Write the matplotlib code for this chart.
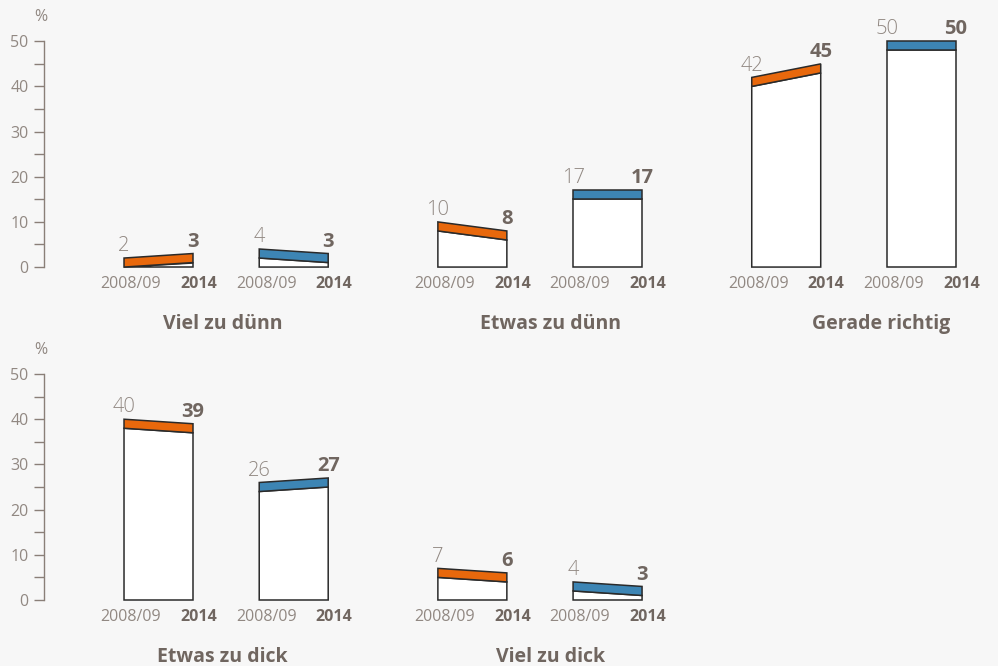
import matplotlib.pyplot as plt
from matplotlib.patches import Polygon
from matplotlib.ticker import MultipleLocator

plt.rcParams['font.family'] = ['Open Sans', 'DejaVu Sans']

# data: each panel has an orange and a blue pair (2008/09 -> 2014)
top_groups = ['Viel zu dünn', 'Etwas zu dünn', 'Gerade richtig']
top_orange = [(2, 3), (10, 8), (42, 45)]
top_blue = [(4, 3), (17, 17), (50, 50)]

bottom_groups = ['Etwas zu dick', 'Viel zu dick']
bottom_orange = [(40, 39), (7, 6)]
bottom_blue = [(26, 27), (4, 3)]

years = ['2008/09', '2014']
yticks = [0, 10, 20, 30, 40, 50]

BG = '#f7f7f7'
ORANGE = '#e8680c'
BLUE = '#3d85b4'
EDGE = '#2a2a2a'
LIGHT = '#918882'
DARK = '#706660'
AXC = '#8a7f78'

BAND = 2.0
GROUP_STEP = 4.55
SERIES_STEP = 1.96
FIRST = 1.16
title_shift = [-0.05, 0.15, 0.4]


def draw_bar(ax, x0, vals, color):
    v1, v2 = vals
    x1 = x0 + 1
    b1, b2 = max(v1 - BAND, 0), max(v2 - BAND, 0)
    ax.add_patch(Polygon([(x0, 0), (x1, 0), (x1, b2), (x0, b1)], closed=True,
                         facecolor='white', edgecolor=EDGE, lw=1.1, clip_on=False))
    ax.add_patch(Polygon([(x0, b1), (x1, b2), (x1, v2), (x0, v1)], closed=True,
                         facecolor=color, edgecolor=EDGE, lw=1.1, clip_on=False))
    ax.text(x0, v1 + 0.4, str(v1), ha='center', va='bottom', fontsize=14.5,
            color=LIGHT, fontweight='light')
    ax.text(x1, v2 + 0.4, str(v2), ha='center', va='bottom', fontsize=14.5,
            color=DARK, fontweight='bold')
    ax.text(x0 + 0.1, -2.0, years[0], ha='center', va='top', fontsize=11.5,
            color=LIGHT)
    ax.text(x1 + 0.08, -2.0, years[1], ha='center', va='top', fontsize=11.5,
            color=DARK, fontweight='bold')


def draw_row(ax, groups, orange, blue):
    ax.set_facecolor(BG)
    ax.set_xlim(0, 13.83)
    ax.set_ylim(0, 50)
    for s in ['top', 'right', 'bottom']:
        ax.spines[s].set_visible(False)
    ax.spines['left'].set_color(AXC)
    ax.spines['left'].set_linewidth(1.0)
    ax.set_xticks([])
    ax.set_yticks(yticks)
    ax.yaxis.set_minor_locator(MultipleLocator(5))
    ax.tick_params(axis='y', which='both', length=7, color=AXC, width=1.0,
                   labelcolor=LIGHT, labelsize=11.5, pad=4)
    ax.text(-0.05, 53.5, '%', ha='center', va='bottom', fontsize=11.5,
            color=LIGHT)
    for g, name in enumerate(groups):
        x0 = FIRST + g * GROUP_STEP
        draw_bar(ax, x0, orange[g], ORANGE)
        draw_bar(ax, x0 + SERIES_STEP, blue[g], BLUE)
        cx = x0 + (SERIES_STEP + 1) / 2 + title_shift[g]
        ax.text(cx, -10.3, name, ha='center', va='top', fontsize=14,
                color=DARK, fontweight='bold')


fig = plt.figure(figsize=(9.98, 6.66), dpi=100, facecolor=BG)
ax_top = fig.add_axes([44 / 998, 0.599, 1 - 44 / 998, 0.339])
ax_bot = fig.add_axes([44 / 998, 0.0991, 1 - 44 / 998, 0.3393])

draw_row(ax_top, top_groups, top_orange, top_blue)
draw_row(ax_bot, bottom_groups, bottom_orange, bottom_blue)

fig.savefig('out.png', dpi=100, facecolor=BG)
